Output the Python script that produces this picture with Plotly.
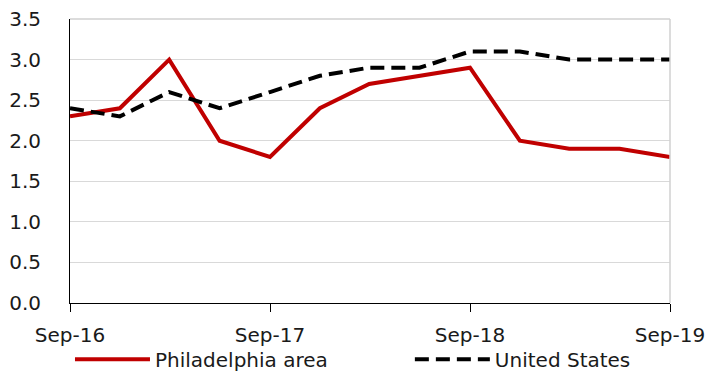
import plotly.graph_objects as go

# quarterly values, Sep-16 .. Sep-19
quarters = [
    "2016-09-01", "2016-12-01", "2017-03-01", "2017-06-01", "2017-09-01",
    "2017-12-01", "2018-03-01", "2018-06-01", "2018-09-01", "2018-12-01",
    "2019-03-01", "2019-06-01", "2019-09-01",
]
philadelphia = [2.3, 2.4, 3.0, 2.0, 1.8, 2.4, 2.7, 2.8, 2.9, 2.0, 1.9, 1.9, 1.8]
united_states = [2.4, 2.3, 2.6, 2.4, 2.6, 2.8, 2.9, 2.9, 3.1, 3.1, 3.0, 3.0, 3.0]

tick_dates = ["2016-09-01", "2017-09-01", "2018-09-01", "2019-09-01"]
tick_labels = ["Sep-16", "Sep-17", "Sep-18", "Sep-19"]

FONT = "DejaVu Sans"

fig = go.Figure()
fig.add_trace(
    go.Scatter(
        x=quarters,
        y=philadelphia,
        mode="lines",
        name="Philadelphia area",
        line=dict(color="#c00000", width=4),
        legend="legend",
    )
)
fig.add_trace(
    go.Scatter(
        x=quarters,
        y=united_states,
        mode="lines",
        name="United States",
        line=dict(color="black", width=4, dash="14px,7px"),
        legend="legend2",
    )
)

fig.update_xaxes(
    range=[quarters[0], quarters[-1]],
    tickvals=tick_dates,
    ticktext=tick_labels,
    showgrid=False,
    showline=True,
    linecolor="black",
    linewidth=1,
    ticks="outside",
    ticklen=8,
    tickcolor="black",
    ticklabelstandoff=6,
    ticklabeloverflow="allow",
    automargin=False,
    tickfont=dict(family=FONT, size=20, color="#1a1a1a"),
)
fig.update_yaxes(
    range=[0, 3.5],
    dtick=0.5,
    tickformat=".1f",
    showgrid=True,
    gridcolor="#d9d9d9",
    gridwidth=1,
    showline=True,
    linecolor="black",
    linewidth=1,
    zeroline=False,
    ticks="",
    ticklabelstandoff=24,
    ticklabeloverflow="allow",
    automargin=False,
    tickfont=dict(family=FONT, size=20, color="#1a1a1a"),
)

# light grey frame on the top and right of the plot area
fig.add_shape(type="line", xref="paper", yref="paper", x0=0, x1=1, y0=1, y1=1,
              line=dict(color="#d0d0d0", width=1.5))
fig.add_shape(type="line", xref="paper", yref="paper", x0=1, x1=1, y0=0, y1=1,
              line=dict(color="#d0d0d0", width=1.5))

legend_style = dict(
    orientation="h",
    xref="container",
    xanchor="left",
    yref="container",
    y=0.035,
    yanchor="middle",
    itemwidth=75,
    font=dict(family=FONT, size=20, color="#1a1a1a"),
    bgcolor="rgba(0,0,0,0)",
)

# the page adds an 8px body margin, so the figure is sized to fit inside it
fig.update_layout(
    width=710,
    height=364,
    margin=dict(l=62, r=48, t=11, b=69),
    plot_bgcolor="white",
    paper_bgcolor="white",
    font=dict(family=FONT, size=20, color="#1a1a1a"),
    showlegend=True,
    legend=dict(legend_style, x=0.0873),
    legend2=dict(legend_style, x=0.566),
)

fig.write_html("out.html")
